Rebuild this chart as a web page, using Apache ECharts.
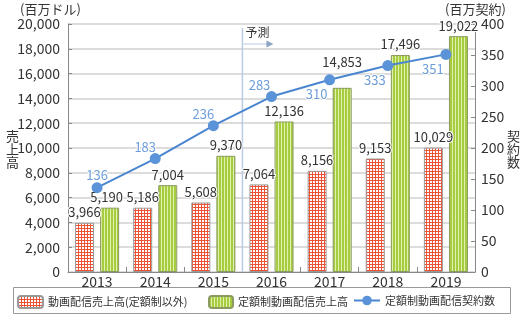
<!DOCTYPE html>
<html><head><meta charset="utf-8">
<script src="https://cdn.jsdelivr.net/npm/echarts@6/dist/echarts.min.js"></script>
<style>html,body{margin:0;padding:0;background:#fff}#c{width:523px;height:326px}</style>
</head><body><div id="c"></div>
<script>
const years = ['2013','2014','2015','2016','2017','2018','2019'];
const otherSales = [3966, 5186, 5608, 7064, 8156, 9153, 10029];
const subSales = [5190, 7004, 9370, 12136, 14853, 17496, 19022];
const subCount = [136, 183, 236, 283, 310, 333, 351];
const countLabelOffsets = [[0,-13],[-10,-11],[-10,-12],[-12,-11],[-13,14],[-13,15],[-13,15]];
const subLabelOffsets = [[-3,0],[0,0],[0,0],[0,0],[0,-15],[0,0],[0,0]];

const FONT = '"Noto Sans CJK JP", "Noto Sans", sans-serif';

function pattern(w, h, draw) {
  const c = document.createElement('canvas');
  c.width = w; c.height = h;
  const ctx = c.getContext('2d');
  draw(ctx);
  return { image: c, repeat: 'repeat' };
}
const redPat = pattern(3, 3, ctx => {
  ctx.fillStyle = '#ffffff'; ctx.fillRect(0,0,3,3);
  ctx.fillStyle = '#ee5234'; ctx.fillRect(0,0,3,1); ctx.fillRect(0,0,1,3);
});
const greenPat = pattern(3, 3, ctx => {
  ctx.fillStyle = '#a6cc40'; ctx.fillRect(0,0,3,3);
  ctx.fillStyle = '#e2efae'; ctx.fillRect(2,0,1,3);
});

const chart = echarts.init(document.getElementById('c'), null, {renderer:'canvas'});
const fmt = v => v.toLocaleString('en-US');
const barLabel = {
  show: true, position: 'top', distance: 4, fontSize: 13, color: '#333', fontFamily: FONT,
  textBorderColor: '#fff', textBorderWidth: 2,
  formatter: p => fmt(p.value)
};
const legendText = { fontSize: 11, color: '#333', fontFamily: FONT };

chart.setOption({
  animation: false,
  textStyle: { fontFamily: FONT },
  grid: { left: 68, right: 48, top: 24, bottom: 54 },
  legend: [
    { data: ['動画配信売上高(定額制以外)'], left: 17, top: 295, itemWidth: 25, itemHeight: 12, textStyle: legendText, padding: 0 },
    { data: ['定額制動画配信売上高'], left: 208, top: 295, itemWidth: 24, itemHeight: 12, textStyle: legendText, padding: 0 },
    { data: ['定額制動画配信契約数'], left: 353, top: 295, itemWidth: 26, itemHeight: 12, textStyle: legendText, padding: 0 }
  ],
  xAxis: {
    type: 'category', data: years,
    axisLine: { lineStyle: { color: '#888', width: 1 } },
    axisTick: { show: true, inside: true, length: 5, alignWithLabel: false, lineStyle: { color: '#888' } },
    axisLabel: { fontSize: 14, color: '#333', margin: 3, fontFamily: FONT }
  },
  yAxis: [
    {
      type: 'value', min: 0, max: 20000, interval: 2000,
      axisLine: { show: true, lineStyle: { color: '#888' } },
      axisTick: { show: true, inside: true, length: 4, lineStyle: { color: '#888' } },
      splitLine: { lineStyle: { color: '#d0d0d0', width: 1.5 } },
      axisLabel: { fontSize: 14, color: '#333', margin: 8, formatter: v => fmt(v), fontFamily: FONT }
    },
    {
      type: 'value', min: 0, max: 400, interval: 50,
      axisLine: { show: true, lineStyle: { color: '#888' } },
      axisTick: { show: true, inside: true, length: 4, lineStyle: { color: '#888' } },
      splitLine: { show: false },
      axisLabel: { fontSize: 14, color: '#333', margin: 6, fontFamily: FONT }
    }
  ],
  series: [
    {
      name: '動画配信売上高(定額制以外)', type: 'bar', data: otherSales,
      barWidth: 19, barGap: '32%', barCategoryGap: '24%',
      itemStyle: { color: redPat, borderColor: '#999', borderWidth: 1 },
      label: barLabel
    },
    {
      name: '定額制動画配信売上高', type: 'bar',
      data: subSales.map((v, i) => ({ value: v, label: { offset: subLabelOffsets[i] } })),
      barWidth: 19,
      itemStyle: { color: greenPat, borderColor: '#8a9a60', borderWidth: 1 },
      label: barLabel
    },
    {
      name: '定額制動画配信契約数', type: 'line', yAxisIndex: 1,
      data: subCount.map((v, i) => ({ value: v, label: { offset: countLabelOffsets[i] } })),
      symbol: 'circle', symbolSize: 11,
      lineStyle: { color: '#4a86d0', width: 2 },
      itemStyle: { color: '#5b93d9' },
      label: {
        show: true, position: 'inside', fontSize: 13, color: '#6d9edb', fontFamily: FONT,
        textBorderColor: '#fff', textBorderWidth: 2
      },
      z: 5
    }
  ]
});

const p15 = chart.convertToPixel({ xAxisIndex: 0 }, '2015');
const p16 = chart.convertToPixel({ xAxisIndex: 0 }, '2016');
const fx = (p15 + p16) / 2;
chart.setOption({
  graphic: [
    { type: 'rect', shape: { x: 13.5, y: 287.5, width: 497, height: 26 }, style: { fill: 'none', stroke: '#999', lineWidth: 1 }, silent: true },
    { type: 'line', shape: { x1: fx, y1: 28, x2: fx, y2: 272 }, style: { stroke: '#b9c9e2', lineWidth: 1.5 }, z: 1 },
    { type: 'text', x: fx + 3, y: 26, style: { text: '予測', fontSize: 12, fill: '#333', fontFamily: FONT } },
    { type: 'line', shape: { x1: fx + 1, y1: 44, x2: fx + 25, y2: 44 }, style: { stroke: '#b9c9e2', lineWidth: 1 } },
    { type: 'polygon', shape: { points: [[fx + 24, 40.5], [fx + 31, 44], [fx + 24, 47.5]] }, style: { fill: '#8ea4c4' } },
    { type: 'text', x: 20, y: 3, style: { text: '(百万ドル)', fontSize: 13, fill: '#333', fontFamily: FONT } },
    { type: 'text', x: 445, y: 3, style: { text: '(百万契約)', fontSize: 13, fill: '#333', fontFamily: FONT } },
    { type: 'text', x: 6, y: 130, style: { text: '売\n上\n高', fontSize: 13, lineHeight: 13, fill: '#333', fontFamily: FONT } },
    { type: 'text', x: 507, y: 130, style: { text: '契\n約\n数', fontSize: 13, lineHeight: 13, fill: '#333', fontFamily: FONT } }
  ]
});
</script></body></html>
